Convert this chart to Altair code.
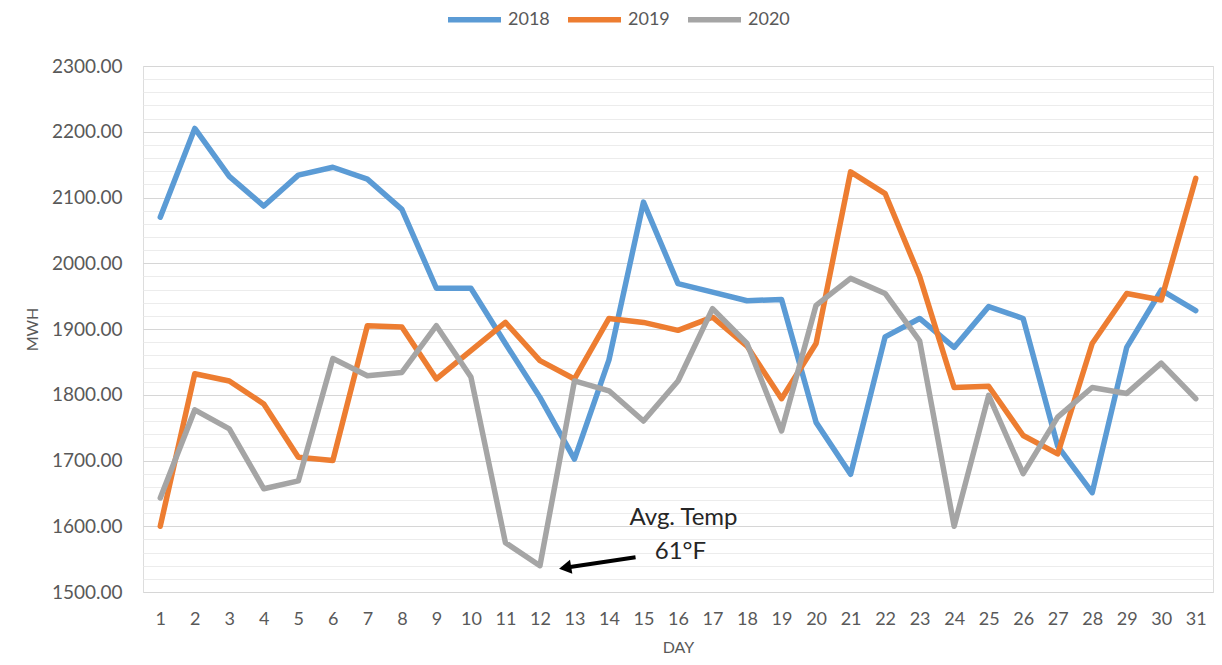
import altair as alt
import pandas as pd

days = list(range(1, 32))
mwh_2018 = [2070, 2205, 2132, 2087, 2134, 2146, 2128, 2082, 1962, 1962,
            1878, 1796, 1702, 1853, 2093, 1969, 1956, 1943, 1945, 1758,
            1679, 1888, 1916, 1872, 1934, 1916, 1722, 1651, 1872, 1959, 1928]
mwh_2019 = [1600, 1832, 1821, 1786, 1705, 1700, 1905, 1903, 1824, 1867,
            1910, 1852, 1824, 1916, 1910, 1898, 1918, 1874, 1794, 1878,
            2139, 2106, 1980, 1811, 1813, 1738, 1710, 1878, 1954, 1944, 2129]
mwh_2020 = [1643, 1777, 1748, 1657, 1669, 1855, 1829, 1834, 1905, 1827,
            1575, 1540, 1821, 1806, 1760, 1821, 1931, 1878, 1745, 1936,
            1977, 1954, 1882, 1600, 1799, 1680, 1766, 1811, 1802, 1848, 1794]
series_names = ["2018", "2019", "2020"]
series_colors = ["#5b9bd5", "#ed7d31", "#a5a5a5"]

y_ticks = list(range(1500, 2301, 20))

# annotation
ann_text = ["Avg. Temp", "61°F"]
ann_x = [16.16, 16.07]
ann_y = [1613, 1561]
arrow_tail_x, arrow_tail_y = 14.77, 1553
arrow_head_x, arrow_head_y = 12.73, 1537

rows = []
for name, vals in zip(series_names, [mwh_2018, mwh_2019, mwh_2020]):
    for d, v in zip(days, vals):
        rows.append({"DAY": d, "MWH": v, "Year": name})
df = pd.DataFrame(rows)

FONT = "Lato"
GREY = "#595959"

x_scale = alt.Scale(domain=[0.5, 31.5], nice=False, zero=False)
y_scale = alt.Scale(domain=[1500, 2300], nice=False, zero=False)

lines = alt.Chart(df).mark_line(strokeWidth=5.5, strokeCap="round", strokeJoin="round").encode(
    x=alt.X("DAY:Q", scale=x_scale,
            axis=alt.Axis(values=days, tickCount=500, format="d", title="DAY", grid=False,
                          ticks=False, domain=False, labelOverlap=False,
                          labelFontSize=18, labelColor=GREY, labelFont=FONT, labelPadding=18,
                          titleFont=FONT, titleFontSize=16, titleColor=GREY, titleFontWeight="normal",
                          titleX=535, titleY=55, titleBaseline="middle", titleAlign="center")),
    y=alt.Y("MWH:Q", scale=y_scale,
            axis=alt.Axis(values=y_ticks, tickCount=500, title="MWH", ticks=False, domain=False,
                          labelOverlap=False,
                          labelExpr="datum.value % 100 === 0 ? format(datum.value, '.2f') : ''",
                          labelFontSize=19, labelColor=GREY, labelFont=FONT, labelPadding=21,
                          gridColor=alt.condition("datum.value % 100 === 0",
                                                  alt.value("#d6d6d6"), alt.value("#ececec")),
                          gridWidth=1.2,
                          titleFont=FONT, titleFontSize=16, titleColor=GREY, titleFontWeight="normal",
                          titleX=-111, titleY=263, titleAngle=270, titleAlign="center",
                          titleBaseline="middle")),
    color=alt.Color("Year:N", scale=alt.Scale(domain=series_names, range=series_colors),
                    legend=alt.Legend(orient="none", legendX=302, legendY=-76, direction="horizontal",
                                      title=None, symbolType="stroke", symbolSize=2809,
                                      symbolStrokeWidth=5.5, labelFontSize=18, labelColor=GREY,
                                      labelFont=FONT, columnPadding=7, labelOffset=4)),
)

arrow_df = pd.DataFrame({"DAY": [arrow_tail_x], "MWH": [arrow_tail_y],
                         "DAY2": [arrow_head_x], "MWH2": [arrow_head_y]})
arrow = alt.Chart(arrow_df).mark_rule(color="black", strokeWidth=4).encode(
    x=alt.X("DAY:Q", scale=x_scale), y=alt.Y("MWH:Q", scale=y_scale),
    x2="DAY2:Q", y2="MWH2:Q")

head_df = pd.DataFrame({"DAY": [arrow_head_x], "MWH": [arrow_head_y]})
head = alt.Chart(head_df).mark_point(shape="triangle-up", size=200, filled=True, color="black",
                                     opacity=1, angle=260.5).encode(
    x=alt.X("DAY:Q", scale=x_scale), y=alt.Y("MWH:Q", scale=y_scale))

text_df = pd.DataFrame({"t": ann_text, "DAY": ann_x, "MWH": ann_y})
text = alt.Chart(text_df).mark_text(font=FONT, fontSize=24, color="#262626", align="center",
                                    baseline="middle").encode(
    x=alt.X("DAY:Q", scale=x_scale), y=alt.Y("MWH:Q", scale=y_scale), text="t:N")

chart = alt.layer(lines, arrow, head, text).properties(
    width=1070, height=526,
    autosize=alt.AutoSizeParams(type="none"),
    padding={"left": 135, "top": 58, "right": 1, "bottom": 65},
).configure_view(strokeWidth=0).configure(background="white")

chart.save("out.html", embed_options={"renderer": "svg", "actions": False})
